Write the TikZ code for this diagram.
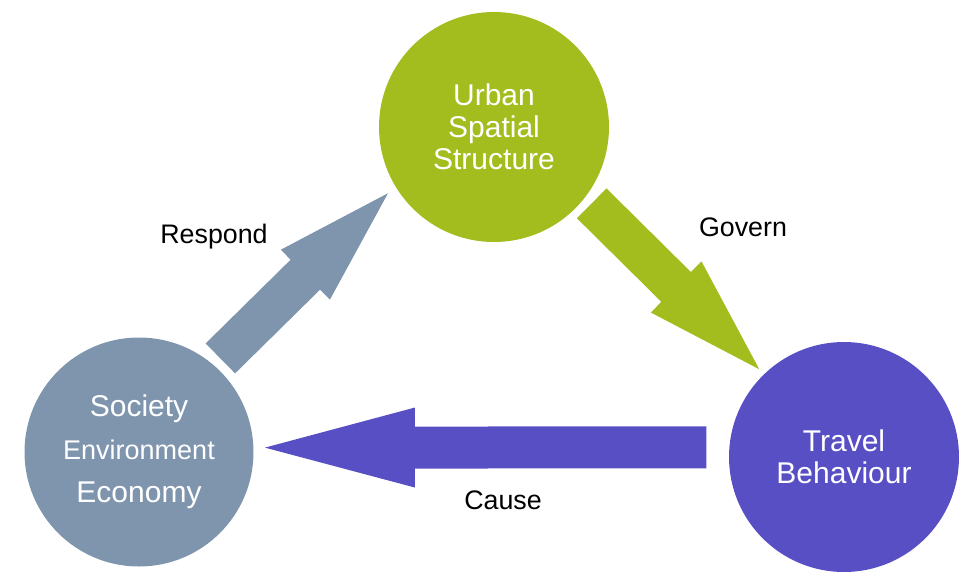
\documentclass[tikz,border=0pt]{standalone}
\usepackage{fontspec}
\setmainfont{Liberation Sans}
\usetikzlibrary{calc}
\definecolor{urbgreen}{RGB}{163,188,30}
\definecolor{socgray}{RGB}{127,149,174}
\definecolor{travblue}{RGB}{88,79,196}
% broad block arrow: colour, tail, tip, shaft half width, head half width, head length
\newcommand\fatarrow[6]{%
  \coordinate (fa-h) at ($(#3)!#6!(#2)$);
  \fill[#1] ($(#2)!#4!90:(#3)$) -- ($(fa-h)!#4!90:(#3)$) -- ($(fa-h)!#5!90:(#3)$)
    -- (#3) -- ($(fa-h)!#5!-90:(#3)$) -- ($(fa-h)!#4!-90:(#3)$)
    -- ($(#2)!#4!-90:(#3)$) -- cycle;}

\begin{document}
\begin{tikzpicture}[x=1pt,y=-1pt,
  bubble/.style={circle,minimum size=230pt,inner sep=0pt,text=white,align=center,
    font=\fontsize{30}{32}\selectfont},
  lbl/.style={font=\fontsize{26.8}{30}\selectfont,anchor=base}]
\useasboundingbox (0,0) rectangle (977,581);
\node[bubble,fill=urbgreen](urb)at(494,127){Urban\\Spatial\\Structure};
\node[bubble,fill=socgray,minimum size=229pt](soc)at(139,452)
  {Society\\[11pt]{\fontsize{27}{32}\selectfont Environment}\\[11pt]Economy};
\node[bubble,fill=travblue](trav)at(844,457){Travel\\Behaviour};
% ends of the arrows, just off the circles
\coordinate(resp-tail)at($(soc.center)!124pt!(soc.49)$);
\coordinate(resp-tip)at($(urb.center)!125pt!(urb.212)$);
\coordinate(gov-tail)at($(urb.center)!124pt!(urb.-38)$);
\coordinate(gov-tip)at($(trav.center)!122pt!(trav.134)$);
\coordinate(cau-tail)at($(trav.center)!138pt!(trav.176)$);
\coordinate(cau-tip)at($(soc.center)!126pt!(soc.2)$);
\fatarrow{socgray}{resp-tail}{resp-tip}{21pt}{35pt}{116pt}
\fatarrow{urbgreen}{gov-tail}{gov-tip}{21pt}{36pt}{117pt}
\fatarrow{travblue}{cau-tail}{cau-tip}{21pt}{40pt}{150pt}
\node[lbl](resp)at(214,243){Respond};
\node[lbl](gov)at(743,236){Govern};
\node[lbl](cau)at(503,509){Cause};
\end{tikzpicture}
\end{document}
